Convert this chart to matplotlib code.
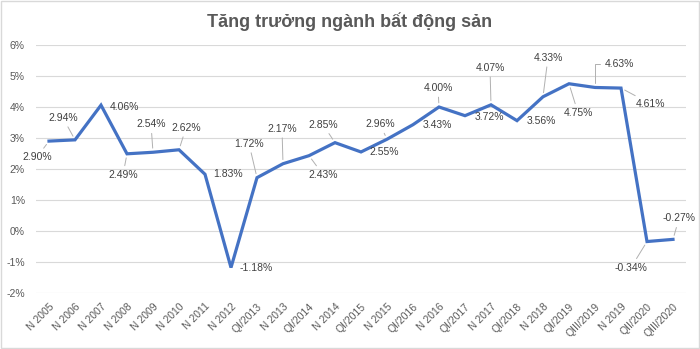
import matplotlib.pyplot as plt
from matplotlib.patches import Rectangle

# categories and growth values (%)
periods = ["N 2005", "N 2006", "N 2007", "N 2008", "N 2009", "N 2010", "N 2011",
           "N 2012", "QI/2013", "N 2013", "QI/2014", "N 2014", "QI/2015", "N 2015",
           "QI/2016", "N 2016", "QI/2017", "N 2017", "QI/2018", "N 2018", "QI/2019",
           "QIII/2019", "N 2019", "QII/2020", "QIII/2020"]
growth = [2.90, 2.94, 4.06, 2.49, 2.54, 2.62, 1.83, -1.18, 1.72, 2.17, 2.43, 2.85,
          2.55, 2.96, 3.43, 4.00, 3.72, 4.07, 3.56, 4.33, 4.75, 4.63, 4.61, -0.34, -0.27]
yticks = [-2, -1, 0, 1, 2, 3, 4, 5, 6]

# label offsets in pixels (dx, dy screen-down) and whether a leader line is drawn
label_offsets = [(-12, 16), (-12, -22), (23, 2), (-4, 21), (-2, -28), (7, -22),
                 (23, 0), (25, 0), (-8, -34), (-1, -35), (14, 19), (-12, -18),
                 (23, 0), (-7, -15), (24, 0), (-1, -19), (24, 1), (-1, -37),
                 (24, 0), (5, -39), (9, 29), (24, -23), (30, 16), (-16, 26), (6, -21)]
leader = [1, 1, 0, 1, 1, 1, 0, 0, 1, 1, 1, 1, 0, 1, 0, 1, 0, 1, 0, 1, 1, 2, 1, 1, 1]

plt.rcParams['font.family'] = ['Liberation Sans', 'DejaVu Sans']

fig = plt.figure(figsize=(7, 3.49), dpi=100)
ax = fig.add_axes([36 / 700, 1 - 293 / 349, 650 / 700, 248 / 349])

x = list(range(len(periods)))
ax.plot(x, growth, color="#4472C4", lw=2.3, solid_joinstyle="miter", zorder=3)

for i, v in enumerate(growth):
    dx, dy = label_offsets[i]
    props = None
    if leader[i]:
        props = dict(arrowstyle="-", color="#B0B0B0", lw=0.7, shrinkA=1, shrinkB=3)
        if leader[i] == 2:
            # elbow leader like excel
            props["connectionstyle"] = "angle,angleA=0,angleB=90,rad=0"
    ax.annotate(f"{v:.2f}%", (i, v), xytext=(dx, -dy), textcoords="offset pixels",
                ha="center", va="center", fontsize=7.5, color="#404040",
                arrowprops=props, zorder=4)

ax.set_xlim(-0.5, len(periods) - 0.5)
ax.set_ylim(-2, 6)
ax.set_yticks(yticks)
ax.set_yticklabels([f"{t}%" for t in yticks])
ax.set_xticks(x)
ax.set_xticklabels(periods, rotation=45, ha="right", rotation_mode="anchor")
ax.tick_params(axis="both", length=0, labelsize=7.5, labelcolor="#595959")
ax.tick_params(axis="y", pad=8)
ax.tick_params(axis="x", pad=6)
ax.grid(axis="y", color="#D9D9D9", lw=0.8)
ax.set_axisbelow(True)
for s in ax.spines.values():
    s.set_visible(False)

fig.text(0.5, 1 - 22 / 349, "Tăng trưởng ngành bất động sản", ha="center", va="center",
         fontsize=13, fontweight="bold", color="#595959")

fig.patches.append(Rectangle((0.001, 0.002), 0.997, 0.995, transform=fig.transFigure,
                             fill=False, edgecolor="#D9D9D9", lw=1))

fig.savefig("out.png", dpi=100)
